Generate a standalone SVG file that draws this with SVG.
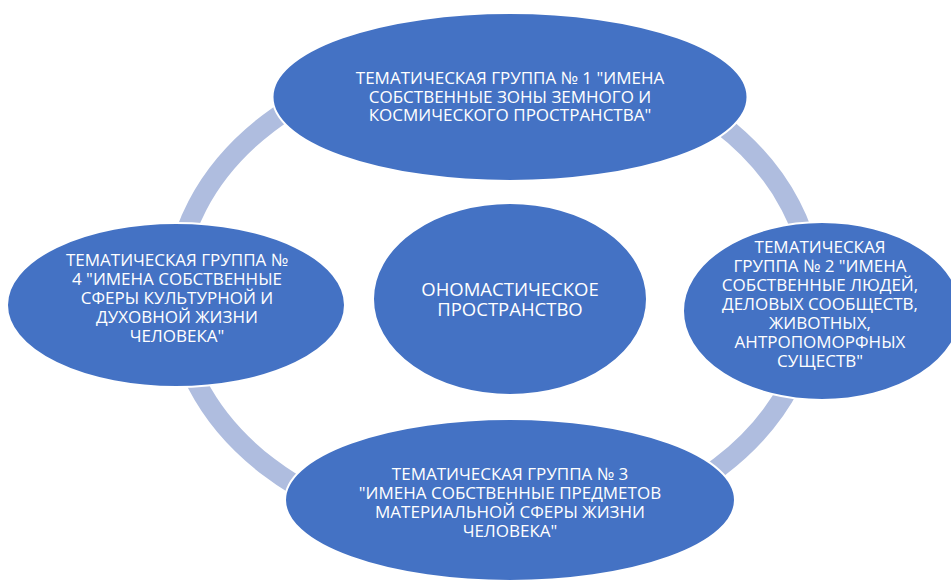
<svg xmlns="http://www.w3.org/2000/svg" width="951" height="581" viewBox="0 0 951 581">
<style>
.ring{fill:none;stroke:#AFBDDF;stroke-width:20}
.node{fill:#4472C4;stroke:#FFFFFF;stroke-width:2}
.lbl{fill:#FFFFFF;font-family:"Open Sans","Noto Sans","DejaVu Sans",sans-serif;font-size:17px;text-anchor:middle}
.big{font-size:18.5px}
</style>
<rect width="951" height="581" fill="#FFFFFF"/>
<g id="connectors">
<ellipse class="ring" cx="494" cy="295" rx="319" ry="243"/>
</g>
<g id="node-center">
<ellipse class="node" cx="510" cy="299" rx="137" ry="96"/>
<text class="lbl big"><tspan x="510" y="295.5">ОНОМАСТИЧЕСКОЕ</tspan><tspan x="510" y="316">ПРОСТРАНСТВО</tspan></text>
</g>
<g id="node-1">
<ellipse class="node" cx="510" cy="97" rx="237.5" ry="84"/>
<text class="lbl"><tspan x="510" y="84">ТЕМАТИЧЕСКАЯ ГРУППА № 1 "ИМЕНА</tspan><tspan x="510" y="102.5">СОБСТВЕННЫЕ ЗОНЫ ЗЕМНОГО И</tspan><tspan x="510" y="121">КОСМИЧЕСКОГО ПРОСТРАНСТВА"</tspan></text>
</g>
<g id="node-2">
<ellipse class="node" cx="822" cy="311" rx="139" ry="89"/>
<text class="lbl"><tspan x="820" y="253">ТЕМАТИЧЕСКАЯ</tspan><tspan x="820" y="272">ГРУППА № 2 "ИМЕНА</tspan><tspan x="820" y="291">СОБСТВЕННЫЕ ЛЮДЕЙ,</tspan><tspan x="820" y="310">ДЕЛОВЫХ СООБЩЕСТВ,</tspan><tspan x="820" y="329">ЖИВОТНЫХ,</tspan><tspan x="820" y="348">АНТРОПОМОРФНЫХ</tspan><tspan x="820" y="367">СУЩЕСТВ"</tspan></text>
</g>
<g id="node-3">
<ellipse class="node" cx="510" cy="500" rx="225" ry="81"/>
<text class="lbl"><tspan x="510" y="480">ТЕМАТИЧЕСКАЯ ГРУППА № 3</tspan><tspan x="510" y="499">"ИМЕНА СОБСТВЕННЫЕ ПРЕДМЕТОВ</tspan><tspan x="510" y="518">МАТЕРИАЛЬНОЙ СФЕРЫ ЖИЗНИ</tspan><tspan x="510" y="537">ЧЕЛОВЕКА"</tspan></text>
</g>
<g id="node-4">
<ellipse class="node" cx="176" cy="305" rx="169" ry="82"/>
<text class="lbl"><tspan x="177" y="266">ТЕМАТИЧЕСКАЯ ГРУППА №</tspan><tspan x="177" y="285">4 "ИМЕНА СОБСТВЕННЫЕ</tspan><tspan x="177" y="304">СФЕРЫ КУЛЬТУРНОЙ И</tspan><tspan x="177" y="323">ДУХОВНОЙ ЖИЗНИ</tspan><tspan x="177" y="342">ЧЕЛОВЕКА"</tspan></text>
</g>
</svg>
